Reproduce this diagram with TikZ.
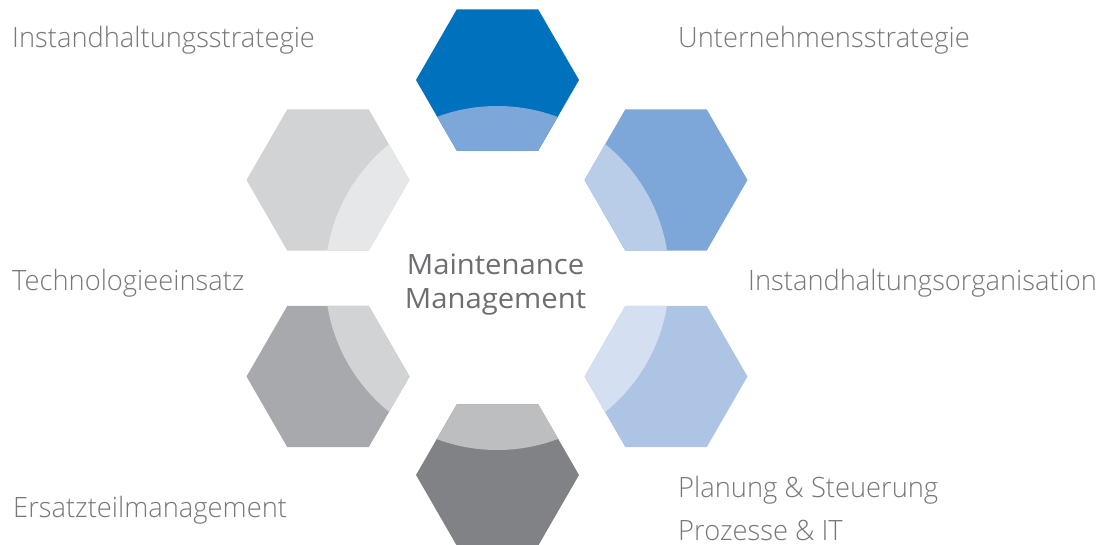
\documentclass[tikz,border=0pt]{standalone}
\usepackage{fontspec}
\setmainfont{Open Sans}
\newfontfamily\lightfont{Open Sans}[UprightFont=* Light, FakeStretch=0.975]
\newfontfamily\centerfont{Open Sans}[FakeStretch=1.045]
\definecolor{topout}{HTML}{0071BC}
\definecolor{topin}{HTML}{7DA7D9}
\definecolor{urout}{HTML}{7DA7D9}
\definecolor{urin}{HTML}{B9CDE9}
\definecolor{lrout}{HTML}{AEC4E5}
\definecolor{lrin}{HTML}{D4E0F2}
\definecolor{bout}{HTML}{808285}
\definecolor{bin}{HTML}{BCBEC0}
\definecolor{llout}{HTML}{A7A9AC}
\definecolor{llin}{HTML}{D1D3D4}
\definecolor{ulout}{HTML}{D1D3D4}
\definecolor{ulin}{HTML}{E6E7E8}
\definecolor{labelgray}{HTML}{77787B}
\definecolor{centergray}{HTML}{6D6E71}
\newcommand\myhex[4]{%
  \begin{scope}
    \clip (#1-81.5,#2) -- (#1-40.75,#2-70.6) -- (#1+40.75,#2-70.6) -- (#1+81.5,#2)
      -- (#1+40.75,#2+70.6) -- (#1-40.75,#2+70.6) -- cycle;
    \fill[#3] (#1-90,#2-80) rectangle (#1+90,#2+80);
    \fill[#4] (C) circle[radius=172pt];
  \end{scope}}
\begin{document}
\begin{tikzpicture}[x=1pt,y=-1pt,
  lbl/.style={inner sep=0pt, anchor=base west, text=labelgray,
    font=\lightfont\fontsize{28}{34}\selectfont},
  ctr/.style={inner sep=0pt, anchor=base, text=centergray,
    font=\centerfont\fontsize{28}{34}\selectfont}]
\useasboundingbox (0,0) rectangle (1109,544);
\coordinate (C) at (497.2,278);
\myhex{497.5}{80}{topout}{topin}
\myhex{666}{180}{urout}{urin}
\myhex{666}{376.5}{lrout}{lrin}
\myhex{497.5}{475}{bout}{bin}
\myhex{328}{376.5}{llout}{llin}
\myhex{328}{180}{ulout}{ulin}
\node[lbl] (l1) at (12,47.7) {Instandhaltungsstrategie};
\node[lbl] (l2) at (678,47.5) {Unternehmensstrategie};
\node[lbl] (l3) at (12,290.5) {Technologieeinsatz};
\node[lbl] (l4) at (748,290) {Instandhaltungsorganisation};
\node[lbl] (l5) at (13,517.7) {Ersatzteilmanagement};
\node[lbl] (l6) at (678,497.2) {Planung \& Steuerung};
\node[lbl] (l7) at (678,540) {Prozesse \& IT};
\node[ctr] (c1) at (495.5,274.3) {Maintenance};
\node[ctr] (c2) at (495.5,308.3) {Management};
\end{tikzpicture}
\end{document}
